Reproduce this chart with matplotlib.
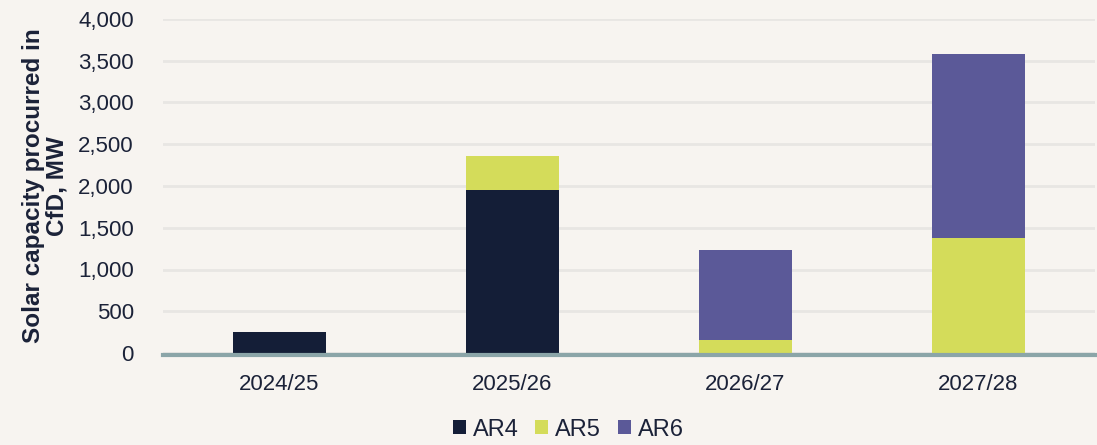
import numpy as np
import matplotlib
matplotlib.use('Agg')
import matplotlib.pyplot as plt
from matplotlib.ticker import FuncFormatter

plt.rcParams['font.family'] = ['Liberation Sans', 'DejaVu Sans']

years = ['2024/25', '2025/26', '2026/27', '2027/28']
ar4 = [250, 1950, 0, 0]
ar5 = [0, 410, 150, 1380]
ar6 = [0, 0, 1080, 2200]

bg = '#F7F4F0'
txt = '#1B2238'
colors = {'AR4': '#141E37', 'AR5': '#D4DC5A', 'AR6': '#5B5998'}

fig = plt.figure(figsize=(10.97, 4.45), dpi=100, facecolor=bg)
ax = fig.add_axes([163/1097, 1-353/445, 932/1097, 334/445], facecolor=bg)

x = np.arange(len(years))
w = 0.40
b1 = np.array(ar4)
b2 = b1 + np.array(ar5)
ax.bar(x, ar4, w, color=colors['AR4'], label='AR4', zorder=3)
ax.bar(x, ar5, w, bottom=b1, color=colors['AR5'], label='AR5', zorder=3)
ax.bar(x, ar6, w, bottom=b2, color=colors['AR6'], label='AR6', zorder=3)

ax.set_xlim(-0.5, 3.5)
ax.set_ylim(0, 4000)
ax.set_yticks(range(0, 4001, 500))
ax.yaxis.set_major_formatter(FuncFormatter(lambda v, p: '{:,.0f}'.format(v)))
ax.set_xticks(x)
ax.set_xticklabels(years)
ax.grid(axis='y', color='#E8E6E3', linewidth=2, zorder=0)
ax.axhline(-25, color='#8BA5A8', linewidth=3, zorder=4, clip_on=False)
for s in ax.spines.values():
    s.set_visible(False)
ax.tick_params(axis='both', length=0, labelsize=16, colors=txt)
ax.tick_params(axis='y', pad=21)
ax.tick_params(axis='x', pad=15)
ax.set_ylabel('Solar capacity procurred in\nCfD, MW', fontsize=17.5, fontweight='bold',
              color=txt, labelpad=7, linespacing=1.0)

leg = fig.legend(loc='lower center', bbox_to_anchor=(0.518, -0.038), ncol=3, frameon=False,
                 fontsize=17, handlelength=0.55, handleheight=0.55, handletextpad=0.3,
                 columnspacing=0.7)
for t in leg.get_texts():
    t.set_color(txt)

fig.savefig('out.png', dpi=100, facecolor=bg)
